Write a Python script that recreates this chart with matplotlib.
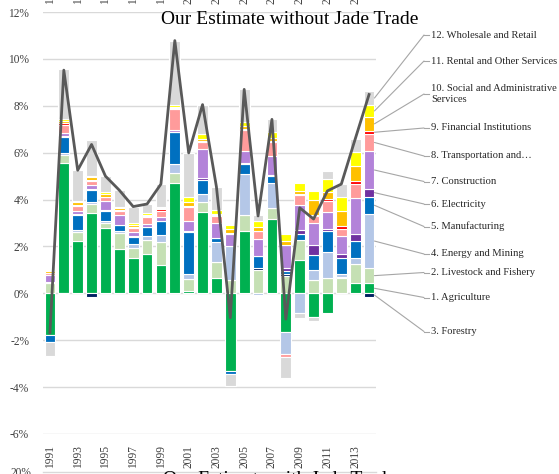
import matplotlib
matplotlib.use("Agg")
import matplotlib.pyplot as plt
import matplotlib.transforms as mtransforms
from matplotlib.lines import Line2D
import numpy as np

plt.rcParams['font.family'] = ['Liberation Serif', 'DejaVu Serif']

years = list(range(1991, 2015))
tick_years = [str(y) for y in range(1991, 2015, 2)]

agriculture = [-1.78, 5.55, 2.25, 3.42, 2.78, 1.90, 1.52, 1.66, 1.21, 4.70, 0.10, 3.48,
               0.67, -3.30, 2.67, 0.03, 3.15, -1.66, 1.42, -1.00, -0.85, 0.02, 0.45, 0.43]
livestock = [0.45, 0.35, 0.35, 0.38, 0.20, 0.68, 0.43, 0.60, 0.98, 0.45, 0.50, 0.40,
             0.68, 0.57, 0.68, 0.95, 0.50, 0.76, 0.85, 0.57, 0.64, 0.62, 0.80, 0.65]
forestry = [0.00, -0.03, 0.00, -0.17, 0.00, 0.00, 0.00, 0.00, 0.00, 0.00, 0.03, 0.02,
            0.00, 0.00, 0.00, 0.10, 0.00, 0.07, 0.00, 0.00, 0.03, 0.05, 0.00, -0.15]
energy = [0.05, 0.10, 0.10, 0.10, 0.10, 0.08, 0.15, 0.20, 0.28, 0.38, 0.20, 0.35,
          0.85, 1.45, 1.72, -0.05, 1.05, -0.92, -0.85, 0.42, 1.10, 0.15, 0.25, 2.30]
manufacturing = [-0.30, 0.65, 0.65, 0.50, 0.45, 0.25, 0.30, 0.35, 0.60, 1.35, 1.80, 0.60,
                 0.15, -0.12, 0.45, 0.50, 0.30, 0.12, 0.28, 0.66, 0.88, 0.67, 0.75, 0.75]
electricity = [0.00, 0.05, 0.02, 0.03, 0.02, 0.02, 0.03, 0.03, 0.03, 0.02, 0.02, 0.05,
               0.02, 0.02, 0.03, 0.03, 0.03, 0.13, 0.15, 0.40, 0.10, 0.15, 0.28, 0.33]
construction = [0.30, 0.15, 0.15, 0.17, 0.38, 0.42, 0.20, 0.12, 0.15, 0.08, 0.45, 1.25,
                0.62, 0.50, 0.50, 0.72, 0.82, 1.00, 1.05, 0.95, 0.72, 0.80, 1.55, 1.60]
transportation = [0.05, 0.35, 0.20, 0.20, 0.17, 0.17, 0.15, 0.28, 0.27, 0.90, 0.58, 0.30,
                  0.30, 0.02, 0.92, 0.33, 0.60, -0.15, 0.45, 0.30, 0.45, 0.30, 0.60, 0.75]
financial = [0.00, 0.05, 0.05, 0.05, 0.03, 0.03, 0.05, 0.04, 0.06, 0.03, 0.06, 0.03,
             0.03, 0.02, 0.05, 0.02, 0.05, 0.00, 0.05, 0.02, 0.10, 0.10, 0.10, 0.12]
social = [0.10, 0.10, 0.12, 0.10, 0.10, 0.08, 0.08, 0.08, 0.05, 0.02, 0.15, 0.10,
          0.07, 0.15, 0.12, 0.15, 0.12, 0.15, 0.12, 0.65, 0.30, 0.65, 0.65, 0.60]
rental = [0.05, 0.10, 0.06, 0.05, 0.10, 0.07, 0.07, 0.05, 0.05, 0.10, 0.20, 0.20,
          0.15, 0.20, 0.18, 0.27, 0.25, 0.30, 0.33, 0.40, 0.55, 0.60, 0.60, 0.50]
wholesale = [-0.60, 2.10, 1.30, 1.52, 0.67, 0.70, 0.72, 0.40, 0.98, 2.75, 1.90, 1.27,
             1.00, -0.55, 1.38, 0.25, 0.55, -0.90, -0.20, -0.20, 0.35, 0.55, 0.55, 0.60]

series_names = ["1. Agriculture", "2. Livestock and Fishery", "3. Forestry",
                "4. Energy and Mining", "5. Manufacturing", "6. Electricity",
                "7. Construction", "8. Transportation and\u2026",
                "9. Financial Institutions", "10. Social and Administrative\nServices",
                "11. Rental and Other Services", "12. Wholesale and Retail"]
series_values = [agriculture, livestock, forestry, energy, manufacturing, electricity,
                 construction, transportation, financial, social, rental, wholesale]
colors = ["#00B050", "#C5E0B4", "#002060", "#B4C7E7", "#0070C0", "#7030A0",
          "#B383D9", "#FF9B9B", "#FF0000", "#FFC000", "#FFFF00", "#D9D9D9"]

W, H = 559, 474
fig = plt.figure(figsize=(W / 100, H / 100), dpi=100)
ax = fig.add_axes([43 / W, 1 - 434 / H, (376 - 43) / W, (434 - 12) / H])

x = np.arange(len(years))
width = 0.78
pos_base = np.zeros(len(years))
neg_base = np.zeros(len(years))
last_mid = {}
for name, vals, col in zip(series_names, series_values, colors):
    v = np.array(vals, dtype=float)
    base = np.where(v >= 0, pos_base, neg_base)
    ax.bar(x, v, width, bottom=base, color=col, edgecolor='white', linewidth=0.8, zorder=2)
    last_mid[name] = base[-1] + v[-1] / 2
    pos_base = pos_base + np.where(v >= 0, v, 0)
    neg_base = neg_base + np.where(v < 0, v, 0)

total = np.sum(np.array(series_values, dtype=float), axis=0)
ax.plot(x, total, color="#595959", lw=2.0, zorder=3)

ax.set_xlim(-0.5, len(years) - 0.5)
ax.set_ylim(-6, 12)
ax.set_yticks(np.arange(-6, 13, 2))
ax.set_yticklabels([f"{int(t)}%" for t in np.arange(-6, 13, 2)], fontsize=8.3)
tick_pos = [years.index(int(t)) for t in tick_years]
ax.set_xticks(tick_pos)
ax.set_xticklabels(tick_years, rotation=90, fontsize=8.3)
ax.tick_params(axis='both', length=0, colors='#404040')
ax.tick_params(axis='y', pad=10)
ax.tick_params(axis='x', pad=8)
ax.grid(axis='y', color='#D9D9D9', lw=1.0, zorder=0)
ax.set_axisbelow(True)
for s in ax.spines.values():
    s.set_visible(False)

fig.text(290 / W, 1 - 19 / H, "Our Estimate without Jade Trade", fontsize=14,
         ha='center', va='center', color='#000000')

# callout labels for the last bar
label_y = {"12. Wholesale and Retail": 35, "11. Rental and Other Services": 61,
           "10. Social and Administrative\nServices": 94, "9. Financial Institutions": 128,
           "8. Transportation and\u2026": 156, "7. Construction": 181.5,
           "6. Electricity": 204, "5. Manufacturing": 226.5, "4. Energy and Mining": 254,
           "2. Livestock and Fishery": 272.5, "1. Agriculture": 297.5, "3. Forestry": 331.5}
for name in series_names:
    ly = 1 - label_y[name] / H
    ax.annotate('', xy=(len(years) - 1 + width / 2, last_mid[name]), xycoords='data',
                xytext=(424 / W, ly), textcoords='figure fraction',
                arrowprops=dict(arrowstyle='-', color='#A6A6A6', lw=0.8,
                                shrinkA=0, shrinkB=0), annotation_clip=False)
    fig.add_artist(Line2D([424 / W, 429 / W], [ly, ly], transform=fig.transFigure,
                          color='#A6A6A6', lw=0.8))
    fig.text(431 / W, ly, name, fontsize=7.6, ha='left', va='center',
             color='#262626', linespacing=1.15)

# cropped remnants of adjacent charts (top and bottom edges)
blend = mtransforms.blended_transform_factory(ax.transData, fig.transFigure)
for t, p in zip(tick_years, tick_pos):
    fig.text(p, 1 - 4 / H, t, rotation=90, fontsize=8.3, ha='center', va='bottom',
             transform=blend, color='#404040')
fig.text(31 / W, 1 - 467 / H, "20%", fontsize=8.3, ha='right', va='top', color='#404040')
fig.add_artist(Line2D([43 / W, 376 / W], [1 - 471.5 / H, 1 - 471.5 / H],
                      transform=fig.transFigure, color='#D9D9D9', lw=1.0))
fig.text(163 / W, 1 - 471 / H, "Our Estimate with Jade Trade", fontsize=14,
         ha='left', va='top', color='#000000')

fig.savefig("out.png", dpi=100)
